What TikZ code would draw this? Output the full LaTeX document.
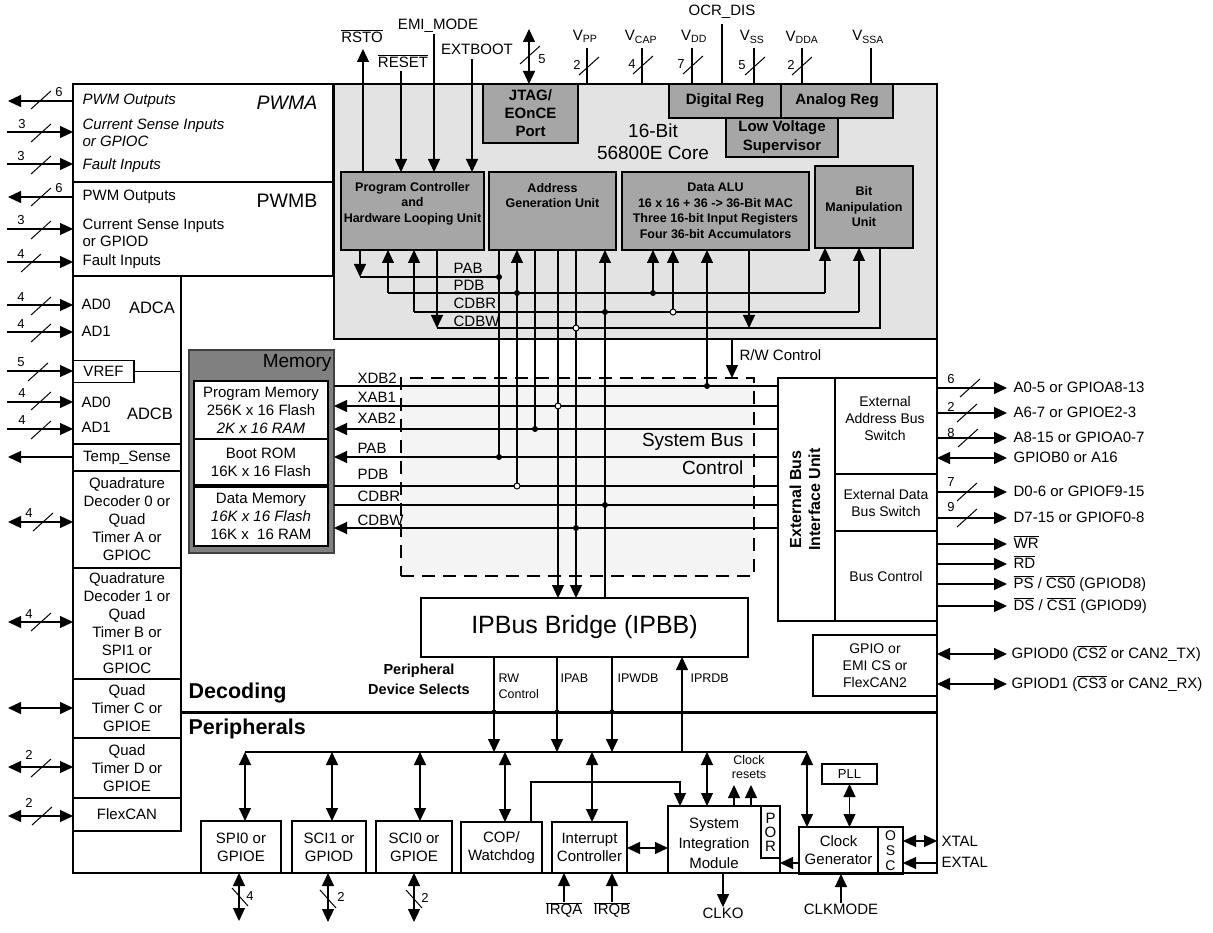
\documentclass[tikz,border=0pt]{standalone}
\usepackage{fontspec}
\setmainfont{Liberation Sans}
\usetikzlibrary{arrows.meta,positioning}
\newcommand{\ovl}[1]{$\overline{\mbox{#1}}$}
\definecolor{coregray}{HTML}{E3E3E3}
\definecolor{unitgray}{HTML}{A6A6A6}
\definecolor{memgray}{HTML}{808080}
\definecolor{memedge}{HTML}{404040}
\definecolor{busgray}{HTML}{F4F4F4}

\begin{document}
\begin{tikzpicture}[x=1pt,y=-1pt,line width=1.2pt,
      box/.style={draw, inner sep=0pt, outer sep=0pt},
      blk/.style={box, align=center, font=\fontsize{15}{18}\selectfont},
      unit/.style={box, fill=unitgray, align=center, font=\fontsize{12.5}{15.5}\selectfont\bfseries},
      lbl/.style={inner sep=0pt, align=center, font=\fontsize{15}{17.5}\selectfont},
      itl/.style={lbl, align=left, font=\fontsize{15}{17}\selectfont\itshape},
      rl/.style={lbl, anchor=west, text height=11pt, text depth=3pt},
      sm/.style={inner sep=0pt, align=center, font=\fontsize{12.5}{14.5}\selectfont},
      bld/.style={inner sep=0pt, align=center, font=\fontsize{12.5}{15.5}\selectfont\bfseries},
      num/.style={inner sep=0pt, font=\fontsize{13}{15}\selectfont},
      pfeil/.style={-{Triangle[length=13pt,width=12pt]}},
      dpfeil/.style={{Triangle[length=13pt,width=12pt]}-{Triangle[length=13pt,width=12pt]}},
      dot/.style={circle, fill, inner sep=0pt, minimum size=6pt},
      odot/.style={circle, draw, fill=white, line width=1pt, inner sep=0pt, minimum size=6pt},
      sl/.pic={\draw[line width=1pt] (-10,9) -- (10,-9);},
      bsl/.pic={\draw[line width=1pt] (-8,-9) -- (8,9);}]

\useasboundingbox (0,0) rectangle (1213,933);

% chip outline and core
\node[box, minimum width=864, minimum height=789] (chip) at (505,478.5) {};
\node[box, fill=coregray, minimum width=603, minimum height=255] (core) at (635.5,211.5) {};

% PWM modules
\node[box, minimum width=260, minimum height=98] (pwma) at (203,133) {};
\node[box, minimum width=260, minimum height=94] (pwmb) at (203,229) {};
\node[itl, anchor=west] (paout) at (82,101) {PWM Outputs};
\node[itl, anchor=west] (pacs) at (82,132.5) {Current Sense Inputs\\or GPIOC};
\node[itl, anchor=west] (paflt) at (82,166) {Fault Inputs};
\node[lbl, font=\fontsize{19.5}{22}\selectfont\itshape] (pwmat) at (287,103) {PWMA};
\node[lbl, anchor=west] (pbout) at (82,197) {PWM Outputs};
\node[lbl, anchor=west, align=left, font=\fontsize{15}{17}\selectfont] (pbcs) at (82,232.5) {Current Sense Inputs\\or GPIOD};
\node[lbl, anchor=west] (pbflt) at (82,262) {Fault Inputs};
\node[lbl, font=\fontsize{19.5}{22}\selectfont] (pwmbt) at (287,201) {PWMB};

% ADC and left column
\node[lbl, anchor=west] (ada0) at (81,304) {AD0};
\node[lbl, anchor=west] (ada1) at (81,331) {AD1};
\node[lbl, font=\fontsize{16.5}{19}\selectfont] (adcat) at (152,308) {ADCA};
\node[blk, minimum width=61, minimum height=22] (vref) at (103.5,371.5) {VREF};
\node[lbl, anchor=west] (adb0) at (81,402) {AD0};
\node[lbl, anchor=west] (adb1) at (81,427) {AD1};
\node[lbl, font=\fontsize{16.5}{19}\selectfont] (adcbt) at (150,414) {ADCB};
\node[blk, minimum width=108, minimum height=27] (temp) at (127,457.5) {Temp\_Sense};
\node[blk, minimum width=108, minimum height=97] (qd0) at (127,519.5) {Quadrature\\Decoder 0 or\\Quad\\Timer A or\\GPIOC};
\node[blk, minimum width=108, minimum height=111] (qd1) at (127,623.5) {Quadrature\\Decoder 1 or\\Quad\\Timer B or\\SPI1 or\\GPIOC};
\node[blk, minimum width=108, minimum height=59] (tmrc) at (127,708.5) {Quad\\Timer C or\\GPIOE};
\node[blk, minimum width=108, minimum height=60] (tmrd) at (127,768) {Quad\\Timer D or\\GPIOE};
\node[blk, minimum width=108, minimum height=33] (flexcan) at (127,814.5) {FlexCAN};
\draw[line width=2.5pt] (pwmb.south east) -- (pwmb.south -| flexcan.east) -- (flexcan.south east);
\draw (vref.east) -- (vref.east -| flexcan.east);

% memory
\node[box, draw=memedge, fill=memgray, line width=2pt, minimum width=145, minimum height=203] (mem) at (261.5,451.5) {};
\node[lbl, anchor=east, font=\fontsize{19}{22}\selectfont] (memt) at (332,363) {Memory};
\node[blk, fill=white, minimum width=134, minimum height=58] (pmem) at (261,410) {Program Memory\\256K x 16 Flash\\\textit{2K x 16 RAM}};
\node[blk, fill=white, minimum width=134, minimum height=46] (brom) at (261,462) {Boot ROM\\16K x 16 Flash};
\node[blk, fill=white, minimum width=134, minimum height=59] (dmem) at (261,516.5) {Data Memory\\\textit{16K x 16 Flash}\\16K x~ 16 RAM};

% core units
\node[unit, minimum width=95, minimum height=59, font=\fontsize{15}{18}\selectfont\bfseries] (jtag) at (530.5,113.5) {JTAG/\\EOnCE\\Port};
\node[unit, minimum width=112, minimum height=34, font=\fontsize{15}{18}\selectfont\bfseries] (dreg) at (725,101) {Digital Reg};
\node[unit, minimum width=112, minimum height=34, font=\fontsize{15}{18}\selectfont\bfseries] (areg) at (837,101) {Analog Reg};
\node[unit, minimum width=112, minimum height=39, font=\fontsize{15}{19}\selectfont\bfseries] (lvs) at (782,137.5) {Low Voltage\\Supervisor};
\node[lbl, font=\fontsize{19}{22}\selectfont] (coret) at (653,142) {16-Bit\\56800E Core};
\node[unit, minimum width=143, minimum height=78] (pcu) at (412.5,211) {};
\node[bld] (pcut) at (412.5,203.5) {Program Controller\\and\\Hardware Looping Unit};
\node[unit, minimum width=127, minimum height=78] (agu) at (552.5,211) {};
\node[bld] (agut) at (552.5,195.5) {Address\\Generation Unit};
\node[unit, minimum width=187, minimum height=78] (alu) at (715.5,211) {Data ALU\\16 x 16 + 36 -> 36-Bit MAC\\Three 16-bit Input Registers\\Four 36-bit Accumulators};
\node[unit, minimum width=98, minimum height=82] (bmu) at (864,207) {Bit\\Manipulation\\Unit};

% system bus, external bus interface, bridge
\node[box, dash pattern=on 13pt off 8pt, fill=busgray, minimum width=353, minimum height=198] (sbc) at (577.5,477) {};
\node[lbl, anchor=east, align=right, font=\fontsize{19}{28}\selectfont] (sbct) at (744,454) {System Bus\\Control};
\node[box, minimum width=57, minimum height=243] (ebiu) at (806.5,499.5) {};
\node[lbl, rotate=90, font=\fontsize{16}{19}\selectfont\bfseries] (ebiut) at (805,499.5) {External Bus\\Interface Unit};
\node[box, minimum width=102, minimum height=96] (eabs) at (886,426) {};
\node[lbl, font=\fontsize{14}{17}\selectfont] (eabst) at (885,418) {External\\Address Bus\\Switch};
\node[blk, minimum width=102, minimum height=57, font=\fontsize{14}{17}\selectfont] (edbs) at (886,502.5) {External Data\\Bus Switch};
\node[blk, minimum width=102, minimum height=90, font=\fontsize{14}{17}\selectfont] (busc) at (886,576) {Bus Control};
\node[blk, minimum width=124, minimum height=61, font=\fontsize{14}{17}\selectfont] (gpio) at (875,665.5) {GPIO or\\EMI CS or\\FlexCAN2};
\node[blk, minimum width=327, minimum height=59, font=\fontsize{25}{30}\selectfont] (ipbb) at (584.5,627.5) {IPBus Bridge (IPBB)};

% peripherals
\node[blk, minimum width=80, minimum height=52] (spi0) at (241,847) {SPI0 or\\GPIOE};
\node[blk, minimum width=74, minimum height=52] (sci1) at (329,847) {SCI1 or\\GPIOD};
\node[blk, minimum width=76, minimum height=52] (sci0) at (414,847) {SCI0 or\\GPIOE};
\node[blk, minimum width=81, minimum height=51] (cop) at (501.5,847.5) {COP/\\Watchdog};
\node[blk, minimum width=75, minimum height=51] (intc) at (589.5,847.5) {Interrupt\\Controller};
\node[box, minimum width=112, minimum height=67] (sim) at (724,839.5) {};
\node[lbl, font=\fontsize{15}{20}\selectfont] (simt) at (714,843) {System\\Integration\\Module};
\node[blk, minimum width=19, minimum height=52, font=\fontsize{15}{14}\selectfont] (por) at (770.5,832) {P\\O\\R};
\node[blk, minimum width=79, minimum height=47] (clkgen) at (838.5,850.5) {Clock\\Generator};
\node[blk, minimum width=25, minimum height=47, font=\fontsize{14}{15}\selectfont] (osc) at (890.5,850.5) {O\\S\\C};
\node[blk, minimum width=55, minimum height=20, font=\fontsize{13}{15}\selectfont] (pll) at (849.5,774) {PLL};

% core buses
\coordinate (rcPAB) at (0,277);
\coordinate (rcPDB) at (0,293);
\coordinate (rcCDBR) at (0,312);
\coordinate (rcCDBW) at (0,328);
\coordinate (pcA) at (360,0);
\coordinate (pcB) at (388,0);
\coordinate (pcC) at (414,0);
\coordinate (pcD) at (437,0);
\coordinate (agA) at (499,0);
\coordinate (agB) at (517,0);
\coordinate (agC) at (535,0);
\coordinate (agD) at (558,0);
\coordinate (agE) at (576,0);
\coordinate (agF) at (605,0);
\coordinate (alA) at (653,0);
\coordinate (alB) at (673,0);
\coordinate (alC) at (707,0);
\coordinate (alD) at (749,0);
\coordinate (bmA) at (825,0);
\coordinate (bmB) at (859,0);
\coordinate (bmC) at (880,0);
\coordinate (rwC) at (732,0);

\draw[pfeil] (pcu.south -| pcA) -- (pcA |- rcPAB);
\draw (pcA |- rcPAB) -- (agA |- rcPAB);
\draw[pfeil] (pcB |- rcPDB) -- (pcB |- pcu.south);
\draw (pcB |- rcPDB) -- (bmA |- rcPDB);
\draw[pfeil] (bmA |- rcPDB) -- (bmA |- bmu.south);
\draw[pfeil] (pcC |- rcCDBR) -- (pcC |- pcu.south);
\draw (pcC |- rcCDBR) -- (bmB |- rcCDBR);
\draw[pfeil] (bmB |- rcCDBR) -- (bmB |- bmu.south);
\draw[pfeil] (pcu.south -| pcD) -- (pcD |- rcCDBW);
\draw (pcD |- rcCDBW) -- (bmC |- rcCDBW) -- (bmC |- bmu.south);
\node[lbl, anchor=west] (lcpab) at (453,268) {PAB};
\node[lbl, anchor=west] (lcpdb) at (453,285) {PDB};
\node[lbl, anchor=west] (lccdbr) at (453,303) {CDBR};
\node[lbl, anchor=west] (lccdbw) at (453,321) {CDBW};

% system buses
\coordinate (rXDB2) at (0,386);
\coordinate (rXAB1) at (0,406);
\coordinate (rXAB2) at (0,429);
\coordinate (rPAB) at (0,457);
\coordinate (rPDB) at (0,486);
\coordinate (rCDBR) at (0,505);
\coordinate (rCDBW) at (0,528);
\draw (mem.east |- rXDB2) -- (ebiu.west |- rXDB2);
\draw[pfeil] (ebiu.west |- rXAB1) -- (mem.east |- rXAB1);
\draw[pfeil] (ebiu.west |- rXAB2) -- (mem.east |- rXAB2);
\draw[pfeil] (ebiu.west |- rPAB) -- (mem.east |- rPAB);
\draw (mem.east |- rPDB) -- (ebiu.west |- rPDB);
\draw (mem.east |- rCDBR) -- (ebiu.west |- rCDBR);
\draw[pfeil] (ebiu.west |- rCDBW) -- (mem.east |- rCDBW);
\node[lbl, anchor=west] (lxdb2) at (357,378) {XDB2};
\node[lbl, anchor=west] (lxab1) at (357,397) {XAB1};
\node[lbl, anchor=west] (lxab2) at (357,418) {XAB2};
\node[lbl, anchor=west] (lpab) at (357,448) {PAB};
\node[lbl, anchor=west] (lpdb) at (357,474) {PDB};
\node[lbl, anchor=west] (lcdbr) at (357,496) {CDBR};
\node[lbl, anchor=west] (lcdbw) at (357,520) {CDBW};

% taps between core and system bus
\draw (agu.south -| agA) -- (agA |- rPAB);
\draw[pfeil] (agB |- rPDB) -- (agB |- agu.south);
\draw (agu.south -| agC) -- (agC |- rXAB2);
\draw[pfeil] (agu.south -| agD) -- (agD |- ipbb.north);
\draw[pfeil] (agu.south -| agE) -- (agE |- ipbb.north);
\draw[pfeil] (ipbb.north -| agF) -- (agF |- agu.south);
\draw[pfeil] (alA |- rcPDB) -- (alA |- alu.south);
\draw[pfeil] (alB |- rcCDBR) -- (alB |- alu.south);
\draw[pfeil] (alC |- rXDB2) -- (alC |- alu.south);
\draw[pfeil] (alu.south -| alD) -- (alD |- rcCDBW);
\draw[pfeil] (core.south -| rwC) -- (rwC |- sbc.north);
\node[lbl, anchor=west] (lrw) at (739,355) {R/W Control};

\node[dot] (d1) at (agA |- rcPAB) {};
\node[dot] (d2) at (agB |- rcPDB) {};
\node[dot] (d3) at (agF |- rcCDBR) {};
\node[odot] (d4) at (agE |- rcCDBW) {};
\node[dot] (d5) at (alA |- rcPDB) {};
\node[odot] (d6) at (alB |- rcCDBR) {};
\node[dot] (d7) at (alC |- rXDB2) {};
\node[odot] (d8) at (agD |- rXAB1) {};
\node[dot] (d9) at (agC |- rXAB2) {};
\node[dot] (d10) at (agA |- rPAB) {};
\node[odot] (d11) at (agB |- rPDB) {};
\node[dot] (d12) at (agF |- rCDBR) {};
\node[dot] (d13) at (agE |- rCDBW) {};

% decoding / peripherals
\coordinate (rDec) at (0,712);
\coordinate (rPbus) at (0,752);
\draw[line width=3pt] (flexcan.east |- rDec) -- (chip.east |- rDec);
\node[lbl, anchor=west, font=\fontsize{21.5}{24}\selectfont\bfseries] (decl) at (188,693) {Decoding};
\node[lbl, anchor=west, font=\fontsize{21.5}{24}\selectfont\bfseries] (perl) at (188,729) {Peripherals};
\node[lbl, font=\fontsize{14.5}{20}\selectfont\bfseries] (pdsl) at (419,679) {Peripheral\\Device Selects};

\coordinate (ipA) at (494,0);
\coordinate (ipB) at (557,0);
\coordinate (ipC) at (612,0);
\coordinate (ipD) at (682,0);
\draw[pfeil] (ipbb.south -| ipA) -- (ipA |- rPbus);
\draw[pfeil] (ipbb.south -| ipB) -- (ipB |- rPbus);
\draw[pfeil] (ipbb.south -| ipC) -- (ipC |- rPbus);
\draw[pfeil] (ipD |- rPbus) -- (ipD |- ipbb.south);
\node[dot, minimum size=5pt] (d14) at (ipA |- rDec) {};
\node[dot, minimum size=5pt] (d15) at (ipB |- rDec) {};
\node[dot, minimum size=5pt] (d16) at (ipC |- rDec) {};
\node[sm, anchor=west, align=left, font=\fontsize{12.5}{16}\selectfont] (lrwc) at (498,686) {RW\\Control};
\node[sm, anchor=west] (lipab) at (560,678) {IPAB};
\node[sm, anchor=west] (lipwdb) at (617,678) {IPWDB};
\node[sm, anchor=west] (liprdb) at (690,678) {IPRDB};

\coordinate (pSpi) at (245,0);
\coordinate (pSci1) at (332,0);
\coordinate (pSci0) at (420,0);
\coordinate (pCop) at (505,0);
\coordinate (pInt) at (592,0);
\coordinate (pSim) at (707,0);
\coordinate (pClk) at (807,0);
\draw (pSpi |- rPbus) -- (pClk |- rPbus);
\draw[dpfeil] (pSpi |- rPbus) -- (pSpi |- spi0.north);
\draw[dpfeil] (pSci1 |- rPbus) -- (pSci1 |- sci1.north);
\draw[dpfeil] (pSci0 |- rPbus) -- (pSci0 |- sci0.north);
\draw[dpfeil] (pCop |- rPbus) -- (pCop |- cop.north);
\draw[dpfeil] (pInt |- rPbus) -- (pInt |- intc.north);
\draw[dpfeil] (pSim |- rPbus) -- (pSim |- sim.north);
\draw[dpfeil] (pClk |- rPbus) -- (pClk |- clkgen.north);

\coordinate (cA) at (531,782);
\coordinate (cB) at (680,782);
\draw[pfeil] (cop.north -| cA) -- (cA) -- (cB) -- (cB |- sim.north);
\coordinate (rsA) at (734,785);
\coordinate (rsB) at (751,785);
\draw[pfeil] (sim.north -| rsA) -- (rsA);
\draw[pfeil] (sim.north -| rsB) -- (rsB);
\node[sm] (lclkr) at (749,767) {Clock\\resets};
\coordinate (isY) at (0,848);
\coordinate (csY) at (0,863);
\draw[dpfeil] (intc.east |- isY) -- (sim.west |- isY);
\draw[pfeil] (clkgen.west |- csY) -- (sim.east |- csY);
\draw[dpfeil] (pll.south) -- (pll.south |- clkgen.north);
\coordinate (xtY) at (0,841);
\coordinate (exY) at (0,863);
\draw[dpfeil] (osc.east |- xtY) -- (chip.east |- xtY);
\draw[pfeil] (chip.east |- exY) -- (osc.east |- exY);
\node[lbl, anchor=west] (lxtal) at (941,841) {XTAL};
\node[lbl, anchor=west] (lextal) at (941,862) {EXTAL};

\node[lbl] (clkmode) at (841,909) {CLKMODE};
\draw[pfeil] (clkmode.north) -- (clkmode.north |- clkgen.south);
\node[lbl] (clko) at (723,913) {CLKO};
\draw[pfeil] (sim.south -| clko.north) -- (clko.north);
\node[lbl] (irqa) at (564,910) {\ovl{IRQA}};
\draw[pfeil] (irqa.north) -- (irqa.north |- intc.south);
\node[lbl] (irqb) at (612,910) {\ovl{IRQB}};
\draw[pfeil] (irqb.north) -- (irqb.north |- intc.south);

\coordinate (eSpi) at (239,921);
\coordinate (eSci1) at (328,922);
\coordinate (eSci0) at (414,922);
\draw[dpfeil] (spi0.south -| eSpi) -- (eSpi);
\draw[dpfeil] (sci1.south -| eSci1) -- (eSci1);
\draw[dpfeil] (sci0.south -| eSci0) -- (eSci0);
\pic at (240,897) {bsl};
\pic at (328,899) {bsl};
\pic at (414,899) {bsl};
\node[num] (nspi) at (250,896) {4};
\node[num] (nsci1) at (341,897) {2};
\node[num] (nsci0) at (425,898) {2};

% top pins
\coordinate (tRsto) at (363,49);
\coordinate (tReset) at (401,71);
\coordinate (tEmi) at (434,34);
\coordinate (tExt) at (472,59);
\coordinate (tJtag) at (529,29);
\draw[pfeil] (pcu.north -| tRsto) -- (tRsto);
\draw[pfeil] (tReset) -- (tReset |- pcu.north);
\draw[pfeil] (tEmi) -- (tEmi |- pcu.north);
\draw[pfeil] (tExt) -- (tExt |- pcu.north);
\draw[dpfeil] (tJtag) -- (tJtag |- jtag.north);
\node[lbl] (lrsto) at (362,36) {\ovl{RSTO}};
\node[lbl] (lreset) at (403,61) {\ovl{RESET}};
\node[lbl] (lemi) at (438,26) {EMI\_MODE};
\node[lbl] (lext) at (477,49) {EXTBOOT};
\pic at (530,55) {sl};
\node[num] (njtag) at (542,59) {5};

\coordinate (tVpp) at (587,48);
\coordinate (tVcap) at (642,48);
\coordinate (tVdd) at (692,48);
\coordinate (tOcr) at (722,24);
\coordinate (tVss) at (754,48);
\coordinate (tVdda) at (802,48);
\coordinate (tVssa) at (871,48);
\draw (tVpp) -- (tVpp |- chip.north);
\draw (tVcap) -- (tVcap |- chip.north);
\draw (tVdd) -- (tVdd |- dreg.north);
\draw (tOcr) -- (tOcr |- dreg.north);
\draw (tVss) -- (tVss |- dreg.north);
\draw (tVdda) -- (tVdda |- areg.north);
\draw (tVssa) -- (tVssa |- areg.north);
\node[lbl] (lvpp) at (585,36) {V\textsubscript{PP}};
\node[lbl] (lvcap) at (641,37) {V\textsubscript{CAP}};
\node[lbl] (lvdd) at (694,36) {V\textsubscript{DD}};
\node[lbl] (locr) at (722,12) {OCR\_DIS};
\node[lbl] (lvss) at (752,37) {V\textsubscript{SS}};
\node[lbl] (lvdda) at (802,37) {V\textsubscript{DDA}};
\node[lbl] (lvssa) at (868,37) {V\textsubscript{SSA}};
\pic at (589,66) {sl};
\pic at (643,65) {sl};
\pic at (693,65) {sl};
\pic at (755,66) {sl};
\pic at (802,66) {sl};
\node[num] (nvpp) at (577,65) {2};
\node[num] (nvcap) at (632,64) {4};
\node[num] (nvdd) at (681,64) {7};
\node[num] (nvss) at (742,65) {5};
\node[num] (nvdda) at (791,65) {2};

% left pins
\coordinate (iPa1) at (8,101);
\coordinate (iPa2) at (7,132);
\coordinate (iPa3) at (7,164);
\coordinate (iPb1) at (8,197);
\coordinate (iPb2) at (7,229);
\coordinate (iPb3) at (7,262);
\coordinate (iAa0) at (7,305);
\coordinate (iAa1) at (7,332);
\coordinate (iVref) at (7,371);
\coordinate (iAb0) at (7,402);
\coordinate (iAb1) at (7,429);
\coordinate (oTemp) at (8,457);
\coordinate (iQ0) at (8,522);
\coordinate (iQ1) at (8,622);
\coordinate (iTc) at (8,708);
\coordinate (iTd) at (8,767);
\coordinate (iFc) at (8,816);
\draw[pfeil] (chip.west |- iPa1) -- (iPa1);
\draw[pfeil] (iPa2) -- (chip.west |- iPa2);
\draw[pfeil] (iPa3) -- (chip.west |- iPa3);
\draw[pfeil] (chip.west |- iPb1) -- (iPb1);
\draw[pfeil] (iPb2) -- (chip.west |- iPb2);
\draw[pfeil] (iPb3) -- (chip.west |- iPb3);
\draw[pfeil] (iAa0) -- (chip.west |- iAa0);
\draw[pfeil] (iAa1) -- (chip.west |- iAa1);
\draw[pfeil] (iVref) -- (vref.west |- iVref);
\draw[pfeil] (iAb0) -- (chip.west |- iAb0);
\draw[pfeil] (iAb1) -- (chip.west |- iAb1);
\draw[pfeil] (temp.west |- oTemp) -- (oTemp);
\draw[dpfeil] (iQ0) -- (qd0.west |- iQ0);
\draw[dpfeil] (iQ1) -- (qd1.west |- iQ1);
\draw[dpfeil] (iTc) -- (tmrc.west |- iTc);
\draw[dpfeil] (iTd) -- (tmrd.west |- iTd);
\draw[dpfeil] (iFc) -- (flexcan.west |- iFc);
\pic at (41,100) {sl};
\pic at (41,133) {sl};
\pic at (41,165) {sl};
\pic at (41,197) {sl};
\pic at (41,230) {sl};
\pic at (31,263) {sl};
\pic at (41,306) {sl};
\pic at (41,333) {sl};
\pic at (38,372) {sl};
\pic at (41,401) {sl};
\pic at (41,430) {sl};
\pic at (43,522) {sl};
\pic at (41,622) {sl};
\pic at (41,768) {sl};
\pic at (42,816) {sl};
\node[num] (nPa1) at (59,92) {6};
\node[num] (nPa2) at (22,124) {3};
\node[num] (nPa3) at (21,156) {3};
\node[num] (nPb1) at (59,188) {6};
\node[num] (nPb2) at (21,220) {3};
\node[num] (nPb3) at (21,254) {4};
\node[num] (nAa0) at (21,297) {4};
\node[num] (nAa1) at (21,324) {4};
\node[num] (nVref) at (21,362) {5};
\node[num] (nAb0) at (22,393) {4};
\node[num] (nAb1) at (22,420) {4};
\node[num] (nQ0) at (29,513) {4};
\node[num] (nQ1) at (29,614) {4};
\node[num] (nTd) at (29,755) {2};
\node[num] (nFc) at (29,803) {2};

% right pins
\coordinate (oA0) at (1007,388);
\coordinate (oA6) at (1007,413);
\coordinate (oA8) at (1007,438);
\coordinate (oB0) at (1007,458);
\coordinate (oD0) at (1007,492);
\coordinate (oD7) at (1007,518);
\coordinate (oWR) at (1007,544);
\coordinate (oRD) at (1007,564);
\coordinate (oPS) at (1007,584);
\coordinate (oDS) at (1007,606);
\coordinate (oG0) at (1007,654);
\coordinate (oG1) at (1007,684);
\draw[pfeil] (chip.east |- oA0) -- (oA0);
\draw[pfeil] (chip.east |- oA6) -- (oA6);
\draw[pfeil] (chip.east |- oA8) -- (oA8);
\draw[dpfeil] (chip.east |- oB0) -- (oB0);
\draw[pfeil] (chip.east |- oD0) -- (oD0);
\draw[pfeil] (chip.east |- oD7) -- (oD7);
\draw[pfeil] (chip.east |- oWR) -- (oWR);
\draw[pfeil] (chip.east |- oRD) -- (oRD);
\draw[pfeil] (chip.east |- oPS) -- (oPS);
\draw[pfeil] (chip.east |- oDS) -- (oDS);
\draw[dpfeil] (chip.east |- oG0) -- (oG0);
\draw[dpfeil] (chip.east |- oG1) -- (oG1);
\pic at (970,388) {sl};
\pic at (967,413) {sl};
\pic at (968,438) {sl};
\pic at (967,492) {sl};
\pic at (967,518) {sl};
\node[num] (nA0) at (951,379) {6};
\node[num] (nA6) at (951,407) {2};
\node[num] (nA8) at (951,433) {8};
\node[num] (nD0) at (951,482) {7};
\node[num] (nD7) at (951,507) {9};
\node[rl, right=6pt of oA0] (lA0) {A0-5 or GPIOA8-13};
\node[rl, right=6pt of oA6] (lA6) {A6-7 or GPIOE2-3};
\node[rl, right=6pt of oA8] (lA8) {A8-15 or GPIOA0-7};
\node[rl, right=6pt of oB0] (lB0) {GPIOB0 or A16};
\node[rl, right=6pt of oD0] (lD0) {D0-6 or GPIOF9-15};
\node[rl, right=6pt of oD7] (lD7) {D7-15 or GPIOF0-8};
\node[rl, right=6pt of oWR] (lWR) {\ovl{WR}};
\node[rl, right=6pt of oRD] (lRD) {\ovl{RD}};
\node[rl, right=6pt of oPS] (lPS) {\ovl{PS} / \ovl{CS0} (GPIOD8)};
\node[rl, right=6pt of oDS] (lDS) {\ovl{DS} / \ovl{CS1} (GPIOD9)};
\node[rl, right=4pt of oG0] (lG0) {GPIOD0 (\ovl{CS2} or CAN2\_TX)};
\node[rl, right=4pt of oG1] (lG1) {GPIOD1 (\ovl{CS3} or CAN2\_RX)};

\end{tikzpicture}
\end{document}
